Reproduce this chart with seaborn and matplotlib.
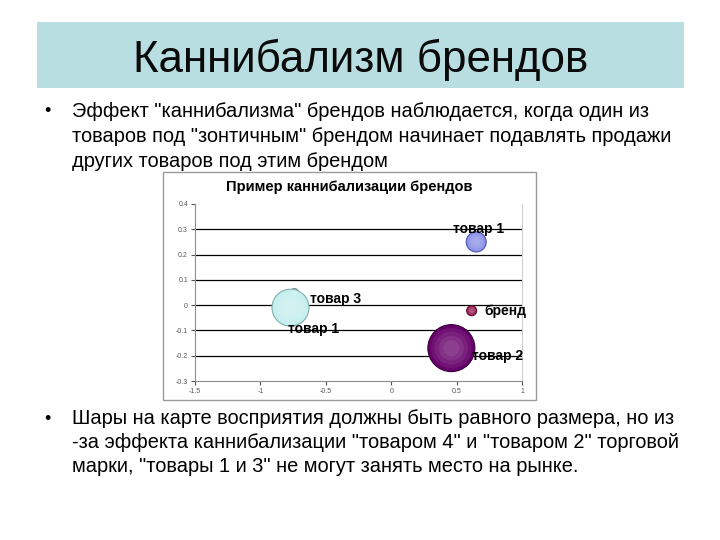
import matplotlib
matplotlib.use("Agg")
import matplotlib.pyplot as plt
import matplotlib.patches as mpatches
import seaborn as sns
import pandas as pd

# данные пузырьковой диаграммы
labels = ["товар 1", "товар 3", "товар 1", "бренд", "товар 2"]
x_vals = [0.65, -0.74, -0.77, 0.615, 0.46]
y_vals = [0.25, 0.05, -0.01, -0.022, -0.17]
volume = [2.07, 0.33, 7.09, 0.52, 11.45]
colors = ["#8b90e8", "#b8c4c4", "#c6eeee", "#9c1f52", "#66006a"]
edge_colors = ["#4e53b0", "#7f8a8a", "#7fb0ac", "#5e0c30", "#3a003c"]
label_offsets = [(1.5, 9), (11, -4.5), (16.5, -15), (9.5, 0), (14.5, -6)]
label_ha = ["center", "left", "center", "left", "left"]

xticks = [-1.5, -1, -0.5, 0, 0.5, 1]
yticks = [-0.3, -0.2, -0.1, 0, 0.1, 0.2, 0.3, 0.4]

title = "Каннибализм брендов"
bullet1 = ["Эффект \"каннибализма\" брендов наблюдается, когда один из",
           "товаров под \"зонтичным\" брендом начинает подавлять продажи",
           "других товаров под этим брендом"]
bullet2 = ["Шары на карте восприятия должны быть равного размера, но из",
           "-за эффекта каннибализации \"товаром 4\" и \"товаром 2\" торговой",
           "марки, \"товары 1 и 3\" не могут занять место на рынке."]
chart_title = "Пример каннибализации брендов"

df = pd.DataFrame({"x": x_vals, "y": y_vals, "volume": volume, "label": labels})

sns.set_style("white")
plt.rcParams["font.family"] = ["Liberation Sans", "DejaVu Sans"]
plt.rcParams["text.color"] = "black"

W, H = 720, 540
fig = plt.figure(figsize=(7.2, 5.4), dpi=100)
fig.patch.set_facecolor("white")

def fx(px):
    return px / W

def fy(py):
    return 1 - py / H

# плашка заголовка
fig.patches.append(mpatches.Rectangle((fx(37), fy(88)), fx(684 - 37), (88 - 22) / H,
                                      transform=fig.transFigure, facecolor="#b9dee2",
                                      edgecolor="none", zorder=0))
fig.text(fx(361), fy(72), title, ha="center", va="baseline", fontsize=31.6, color="#0a0a0a")

# текст пунктов
for i, line in enumerate(bullet1):
    fig.text(fx(72), fy(117 + 25 * i), line, ha="left", va="baseline", fontsize=14.4)
fig.text(fx(44), fy(116), "•", ha="left", va="baseline", fontsize=13)
for i, line in enumerate(bullet2):
    fig.text(fx(72), fy(424.5 + 23.5 * i), line, ha="left", va="baseline", fontsize=14.4)
fig.text(fx(44), fy(423.5), "•", ha="left", va="baseline", fontsize=13)

# рамка диаграммы
fig.patches.append(mpatches.Rectangle((fx(163), fy(400)), fx(536 - 163), (400 - 172) / H,
                                      transform=fig.transFigure, facecolor="white",
                                      edgecolor="#9a9a9a", linewidth=1, zorder=0))
fig.text(fx(349), fy(187), chart_title, ha="center", va="center",
         fontsize=10.5, fontweight="bold")

ax = fig.add_axes([fx(195), fy(381), fx(522 - 195), (381 - 204) / H])
ax.set_zorder(2)
ax.patch.set_alpha(0)
ax.set_xlim(-1.5, 1)
ax.set_ylim(-0.3, 0.4)

for yv in yticks[1:-1]:
    ax.axhline(yv, color="black", linewidth=0.9, zorder=1)

smin, smax = 33, 1145
sns.scatterplot(data=df, x="x", y="y", size="volume", sizes=(smin, smax),
                size_norm=(min(volume), max(volume)), legend=False, ax=ax, zorder=3)
# перекрашиваем пузыри
coll = ax.collections[-1]
coll.set_facecolor(colors)
coll.set_edgecolor(edge_colors)
coll.set_linewidth(0.8)

# мягкий объём: несколько концентрических светлых слоёв
for k, frac in enumerate([0.75, 0.5, 0.28, 0.12]):
    sns.scatterplot(data=df, x="x", y="y", size="volume",
                    sizes=(smin * frac, smax * frac),
                    size_norm=(min(volume), max(volume)), legend=False, ax=ax,
                    color="white", alpha=0.07, linewidth=0, zorder=4 + k)

for lab, xv, yv, off, ha in zip(labels, x_vals, y_vals, label_offsets, label_ha):
    ax.annotate(lab, (xv, yv), xytext=off, textcoords="offset points",
                ha=ha, va="center", fontsize=10, fontweight="bold",
                annotation_clip=False, zorder=10)

ax.set_xticks(xticks)
ax.set_xticklabels([f"{v:g}" for v in xticks])
ax.set_yticks(yticks)
ax.set_yticklabels([f"{v:g}" for v in yticks])
ax.tick_params(axis="both", labelsize=5, colors="#555555", length=3, direction="out",
               left=True, bottom=True, pad=2)
ax.set_xlabel("")
ax.set_ylabel("")
for side in ["left", "bottom", "right"]:
    ax.spines[side].set_color("#8c8c8c")
    ax.spines[side].set_linewidth(0.8)
ax.spines["top"].set_visible(False)
ax.spines["right"].set_color("#d0d0d0")

fig.savefig("out.png", dpi=100)
